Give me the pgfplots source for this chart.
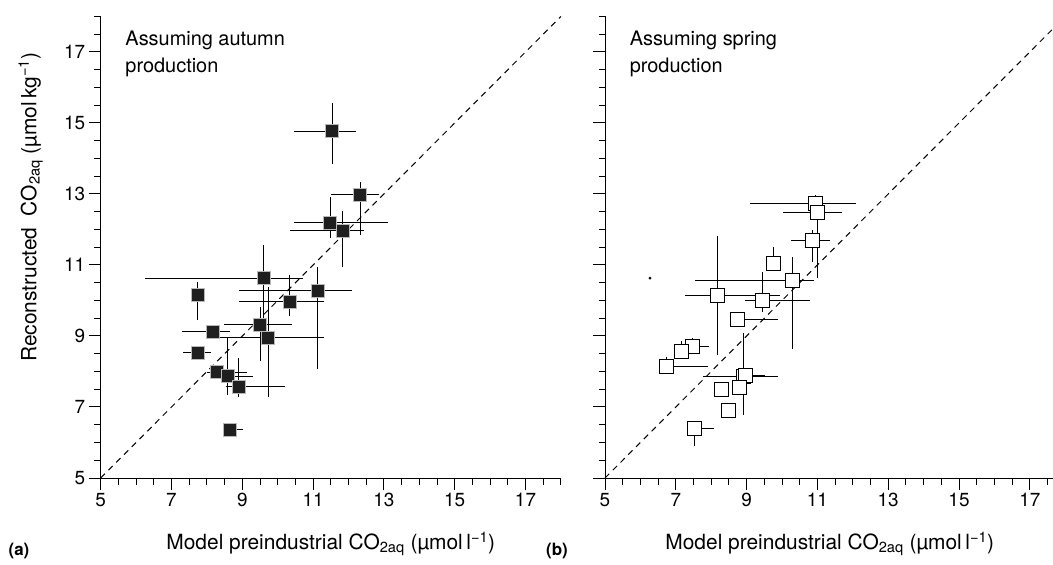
\documentclass[border=0pt]{standalone}
\usepackage{fontspec}
\setmainfont{TeX Gyre Heros}
\usepackage{pgfplots}
\pgfplotsset{compat=1.18}
\pgfplotsset{
  myax/.style={
    x=35.4bp, y=35.5bp,
    anchor=south west,
    xmin=5, ymin=5, ymax=18,
    axis x line*=bottom, axis y line*=left,
    axis line style={line width=1bp, -},
    tick align=outside,
    major tick length=12bp, minor tick length=6.5bp,
    every tick/.style={black, line width=1bp},
    xtick={5,7,...,17}, ytick={5,7,...,17},
    minor xtick={5.5,6,...,18}, minor ytick={5.5,6,...,18},
    tick label style={font=\fontsize{19}{21}\selectfont},
    /pgf/number format/assume math mode=true,
    label style={font=\fontsize{21}{24}\selectfont},
    xlabel={Model preindustrial CO\textsubscript{2aq} (µmol\,l\textsuperscript{−1})},
    xlabel style={at={(axis description cs:0.5,0)}, anchor=center, yshift=-66bp},
    clip=false,
  },
  myerr/.style={
    error bars/x dir=both, error bars/y dir=both,
    error bars/x explicit, error bars/y explicit,
    error bars/error bar style={line width=1bp, black, solid},
    error bars/error mark=none,
  },
}
\begin{document}
\begin{tikzpicture}
\useasboundingbox (0bp,0bp) rectangle (1053bp,565bp);
% ---------------- panel (a)
\begin{axis}[myax, at={(100.7bp,87bp)}, xmax=18,
  ylabel={Reconstructed\hspace{0.55em}CO\textsubscript{2aq} (µmol\,kg\textsuperscript{−1})},
  ylabel style={at={(axis description cs:-0.152,0.587)}, anchor=center},
]
\addplot[black, line width=1bp, dash pattern=on 6bp off 5bp, forget plot] coordinates {(5,5) (18,18)};
\addplot[only marks, myerr, mark=square*, mark size=6.5bp,
  mark options={fill=black!88, draw=black!28, line width=0.7bp, solid}]
coordinates {
(11.54,14.77) += (0.67,0.80) -= (1.07,0.93)
(12.33,12.98) += (0.54,0.37) -= (0.83,1.13)
(11.48,12.19) += (1.64,0.73) -= (1.01,0.44)
(11.84,11.96) += (0.61,0.56) -= (1.49,1.01)
(9.61,10.63) += (1.11,0.93) -= (3.36,1.23)
(7.74,10.15) += (0,0.38) -= (0,0.70)
(11.12,10.28) += (0.97,0.67) -= (2.20,2.22)
(10.34,9.97) += (0.97,0.75) -= (1.42,0.41)
(9.50,9.31) += (0.90,0.52) -= (1.01,1.01)
(9.73,8.95) += (1.58,1.44) -= (1.61,1.66)
(8.16,9.13) += (0.50,0) -= (0.87,0)
(7.74,8.53) += (0.38,0) -= (0.41,0)
(8.29,7.98) += (0.83,0) -= (0.30,0)
(8.59,7.87) += (0.72,1.09) -= (0.40,0.53)
(8.90,7.57) += (1.31,0.80) -= (0.35,0.28)
(8.65,6.37) += (0.38,0) -= (0,0)
};
\node[anchor=west, align=left, font=\fontsize{20}{27}\selectfont] at (axis cs:5.6,16.95) {Assuming autumn\\production};
\end{axis}
% ---------------- panel (b)
\begin{axis}[myax, at={(605bp,87bp)}, xmax=17.7, yticklabels={},
]
\addplot[black, line width=1bp, dash pattern=on 6bp off 5bp, forget plot] coordinates {(5,5) (17.7,17.7)};
\addplot[only marks, mark=*, mark size=1.2bp, black, forget plot] coordinates {(6.27,10.63)};
\addplot[only marks, myerr, mark=square*, mark size=7bp,
  mark options={fill=white, draw=black, line width=1bp, solid}]
coordinates {
(10.95,12.72) += (1.13,0.25) -= (1.86,0.20)
(11.01,12.47) += (0.69,0.10) -= (0.99,1.84)
(10.85,11.69) += (0.50,0.30) -= (0.59,0.60)
(9.77,11.03) += (0,0.49) -= (0,0)
(10.30,10.56) += (0.60,0.66) -= (2.75,1.94)
(8.19,10.13) += (1.75,1.69) -= (0.94,1.67)
(9.46,10.01) += (1.33,0.80) -= (0.50,0.32)
(8.73,9.47) += (1.15,0) -= (0,0)
(7.46,8.70) += (0.49,0.24) -= (0,0)
(7.15,8.56) += (0,0.30) -= (0,0)
(6.74,8.14) += (1.16,0.26) -= (0,0)
(8.92,7.85) += (0.96,1.23) -= (1.14,1.08)
(8.98,7.90) += (0.54,0) -= (0,0)
(8.79,7.54) += (0.20,0) -= (0.20,0)
(8.30,7.48) += (0,0) -= (0,0)
(8.49,6.89) += (0,0) -= (0,0)
(7.52,6.40) += (0.55,0) -= (0,0.50)
};
\node[anchor=west, align=left, font=\fontsize{20}{27}\selectfont] at (axis cs:5.6,16.95) {Assuming spring\\production};
\end{axis}
\node[font=\bfseries\fontsize{17}{19}\selectfont] at (19bp,14bp) {(a)};
\node[font=\bfseries\fontsize{17}{19}\selectfont] at (557bp,14bp) {(b)};
\end{tikzpicture}
\end{document}
